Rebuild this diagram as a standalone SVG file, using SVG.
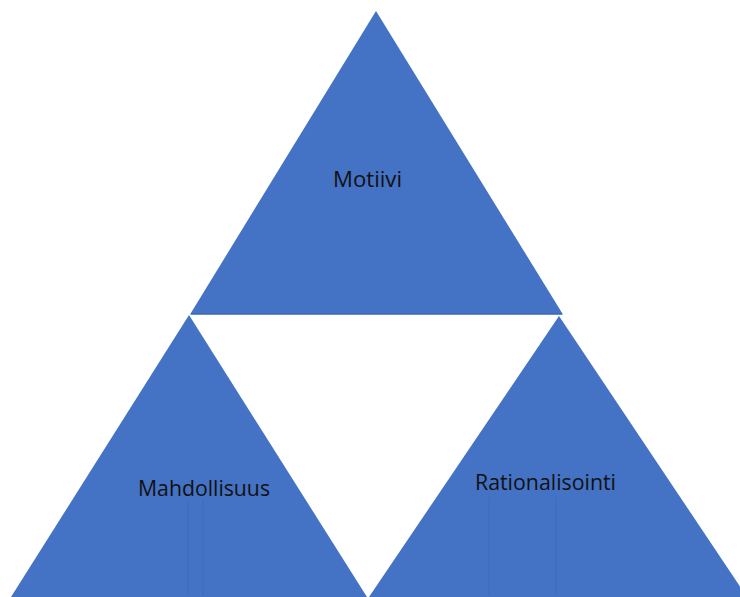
<svg xmlns="http://www.w3.org/2000/svg" width="740" height="597" viewBox="0 0 740 597">
<style>
.tri{fill:#4472C4;stroke:none}
.base{stroke:#3560AE;stroke-width:1.2}
.faint{stroke:#3D68B6;stroke-width:1;stroke-opacity:0.6}
.lbl{font-family:"Open Sans","Liberation Sans",sans-serif;font-size:21px;fill:#111111;text-anchor:middle}
</style>
<rect width="740" height="597" fill="#ffffff"/>
<g id="motiivi">
<polygon class="tri" points="376,11 563,314.5 190,314.5"/>
<line class="base" x1="191" y1="314" x2="562" y2="314"/>
<text class="lbl" x="367.5" y="187" textLength="69" lengthAdjust="spacingAndGlyphs">Motiivi</text>
</g>
<g id="mahdollisuus">
<polygon class="tri" points="189,315 367,597 11,597"/>
<line class="faint" x1="188" y1="500" x2="188" y2="596"/>
<line class="faint" x1="203" y1="500" x2="203" y2="596"/>
<text class="lbl" x="204" y="496" textLength="132" lengthAdjust="spacingAndGlyphs">Mahdollisuus</text>
</g>
<g id="rationalisointi">
<polygon class="tri" points="559,316 747,597 369,597"/>
<line class="faint" x1="489" y1="497" x2="489" y2="596"/>
<line class="faint" x1="556" y1="497" x2="556" y2="596"/>
<text class="lbl" x="545.5" y="490" textLength="141" lengthAdjust="spacingAndGlyphs">Rationalisointi</text>
</g>
<g id="connectors"></g>
</svg>
